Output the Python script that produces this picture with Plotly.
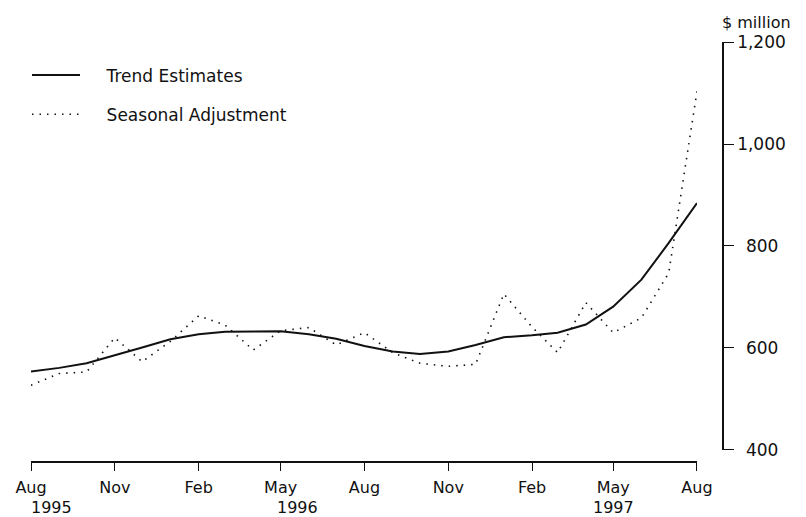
import plotly.graph_objects as go

months = ["1995-08", "1995-09", "1995-10", "1995-11", "1995-12",
          "1996-01", "1996-02", "1996-03", "1996-04", "1996-05", "1996-06", "1996-07",
          "1996-08", "1996-09", "1996-10", "1996-11", "1996-12",
          "1997-01", "1997-02", "1997-03", "1997-04", "1997-05", "1997-06", "1997-07",
          "1997-08"]

trend = [554, 561, 570, 585, 601, 617, 627, 632, 633, 633, 627, 618,
         604, 593, 588, 593, 606, 621, 625, 630, 646, 681, 734, 806, 884]

seasonal = [527, 550, 553, 620, 573, 613, 663, 645, 596, 634, 640, 606,
            630, 591, 570, 564, 568, 706, 641, 591, 689, 630, 659, 747, 1103]

tick_months = ["1995-08", "1995-11", "1996-02", "1996-05", "1996-08",
               "1996-11", "1997-02", "1997-05", "1997-08"]
tick_labels = ["Aug", "Nov", "Feb", "May", "Aug", "Nov", "Feb", "May", "Aug"]

year_labels = ["1995", "1996", "1997"]
year_pos = ["1995-08-24", "1996-05-19", "1997-05-01"]

y_ticks = [400, 600, 800, 1000, 1200]
y_tick_labels = ["\u00a0\u2009400", "\u00a0\u2009600", "\u00a0\u2009800", "1,000", "1,200"]

FONT = "DejaVu Sans, Liberation Sans, Arial, sans-serif"
INK = "#111111"
FS = 17
FX = 16
PAD = "\u00a0\u00a0\u00a0\u00a0"

fig = go.Figure()
fig.add_trace(go.Scatter(
    x=months, y=trend, mode="lines", name=PAD + "Trend Estimates",
    line=dict(color=INK, width=2), legendgroup="a"))
fig.add_trace(go.Scatter(
    x=months, y=seasonal, mode="lines", name=PAD + "Seasonal Adjustment",
    line=dict(color=INK, width=1.6, dash="1.5px,6px"), legendgroup="b"))

for txt, xp in zip(year_labels, year_pos):
    fig.add_annotation(x=xp, y=-0.1075, xref="x", yref="paper", text=txt,
                       showarrow=False, font=dict(family=FONT, size=FX, color=INK),
                       xanchor="center", yanchor="middle", borderpad=0)

fig.add_annotation(x=1.0, y=1.0, xref="paper", yref="paper", text="$ million",
                   showarrow=False, font=dict(family=FONT, size=16, color=INK),
                   xanchor="center", yanchor="middle", xshift=33, yshift=20)

fig.update_layout(
    width=798, height=509,
    margin=dict(l=23, r=83, t=34, b=55, autoexpand=False),
    paper_bgcolor="white", plot_bgcolor="white",
    font=dict(family=FONT, size=FS, color=INK),
    showlegend=True,
    legend=dict(xref="container", yref="container",
                x=0.0238, y=0.829, xanchor="left", yanchor="middle",
                bgcolor="rgba(0,0,0,0)", traceorder="grouped",
                tracegroupgap=14, itemwidth=48,
                font=dict(family=FONT, size=FS, color=INK)),
    xaxis=dict(
        domain=[0, 0.9624], range=["1995-08-01", "1997-08-01"],
        type="date", anchor="free", position=0,
        tickvals=tick_months, ticktext=tick_labels,
        ticks="outside", ticklen=8, tickcolor=INK, tickwidth=1,
        ticklabelstandoff=3,
        showline=True, linecolor=INK, linewidth=1.5,
        showgrid=False, zeroline=False,
        tickfont=dict(family=FONT, size=FX, color=INK)),
    yaxis=dict(
        domain=[0.0286, 1], range=[400, 1200], side="right",
        anchor="free", position=1,
        tickvals=y_ticks, ticktext=y_tick_labels,
        ticks="outside", ticklen=10, tickcolor=INK, tickwidth=1,
        showline=True, linecolor=INK, linewidth=1.5,
        showgrid=False, zeroline=False,
        tickfont=dict(family=FONT, size=FS, color=INK)),
)

fig.write_html("out.html")
